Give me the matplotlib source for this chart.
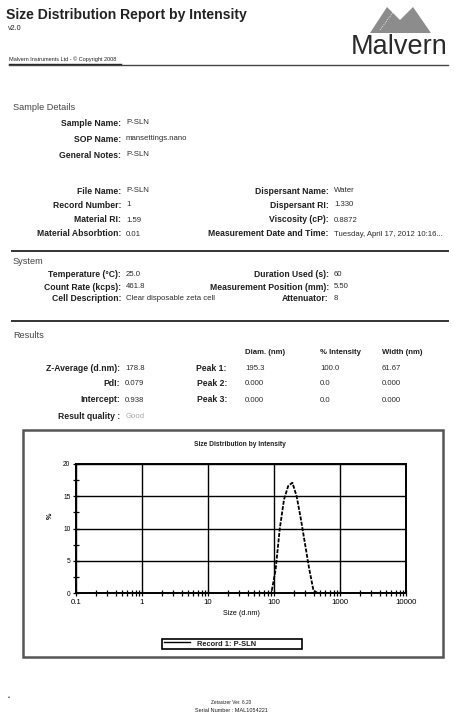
import matplotlib
matplotlib.use("Agg")
import matplotlib.pyplot as plt
from matplotlib.lines import Line2D
from matplotlib.patches import Polygon, Rectangle
from matplotlib.ticker import FixedLocator, LogLocator, NullFormatter

plt.rcParams["font.family"] = ["Liberation Sans", "DejaVu Sans"]

# -----------------------------
# Report data
# -----------------------------

sample_labels = ["Sample Name:", "SOP Name:", "General Notes:"]
sample_values = ["P-SLN", "mansettings.nano", "P-SLN"]

file_labels = ["File Name:", "Record Number:", "Material RI:", "Material Absorbtion:"]
file_values = ["P-SLN", "1", "1.59", "0.01"]
disp_labels = ["Dispersant Name:", "Dispersant RI:", "Viscosity (cP):", "Measurement Date and Time:"]
disp_values = ["Water", "1.330", "0.8872", "Tuesday, April 17, 2012 10:16..."]

system_labels = ["Temperature (\u00b0C):", "Count Rate (kcps):", "Cell Description:"]
system_values = ["25.0", "461.8", "Clear disposable zeta cell"]
system_labels2 = ["Duration Used (s):", "Measurement Position (mm):", "Attenuator:"]
system_values2 = ["60", "5.50", "8"]

result_labels = ["Z-Average (d.nm):", "PdI:", "Intercept:"]
result_values = ["178.8", "0.079", "0.938"]
peak_labels = ["Peak 1:", "Peak 2:", "Peak 3:"]
peak_cols = ["Diam. (nm)", "% Intensity", "Width (nm)"]
peak_diam = ["195.3", "0.000", "0.000"]
peak_int = ["100.0", "0.0", "0.0"]
peak_width = ["61.67", "0.000", "0.000"]

# size distribution (d.nm vs % intensity)
sizes_nm = [68.06, 78.82, 91.28, 105.7, 122.4, 141.8, 164.2, 190.1,
            220.2, 255.0, 295.3, 342.0, 396.1, 458.7, 531.2]
intensity = [0.0, 0.0, 0.0, 3.6, 10.0, 14.5, 16.6, 17.1,
             15.0, 11.5, 7.6, 3.7, 0.4, 0.0, 0.0]

# -----------------------------
# Page helpers (pixel coords, y down)
# -----------------------------

W, H = 454, 727
fig = plt.figure(figsize=(W / 100, H / 100), dpi=100)
fig.patch.set_facecolor("white")

LABEL = "#1e1e1e"
VALUE = "#2a2a2a"
LAB_SIZE = 6.2
VAL_SIZE = 5.6


def put(x, y, s, ha="left", size=VAL_SIZE, color=LABEL, weight="normal"):
    fig.text(x / W, 1 - y / H, s, ha=ha, va="center", fontsize=size,
             color=color, fontweight=weight)


def hline(x1, x2, y, lw=1.2, color="#333333"):
    fig.add_artist(Line2D([x1 / W, x2 / W], [1 - y / H, 1 - y / H],
                          transform=fig.transFigure, lw=lw, color=color))


def rows(labels, values, x_lab, ys, x_val=None, vcolor=VALUE):
    if x_val is None:
        x_val = x_lab + 5
    for lab, val, y in zip(labels, values, ys):
        put(x_lab, y, lab, ha="right", size=LAB_SIZE, weight="bold")
        put(x_val, y, val, color=vcolor)


# -----------------------------
# Header
# -----------------------------

put(6, 15, "Size Distribution Report by Intensity", size=10.1, color="#222222", weight="bold")
put(8, 28, "v2.0", size=5.2)
put(9, 59, "Malvern Instruments Ltd - \u00a9 Copyright 2008", size=4.0, color="#222222")
hline(9, 121, 63.5, lw=1.0, color="#222222")
hline(9, 448, 65, lw=1.0, color="#444444")

logo = Polygon([(370 / W, 1 - 33 / H), (387 / W, 1 - 7 / H), (400 / W, 1 - 20 / H),
                (413 / W, 1 - 7 / H), (431 / W, 1 - 33 / H)],
               closed=True, transform=fig.transFigure, fc="#8c8c8c", ec="none")
fig.add_artist(logo)
fig.add_artist(Line2D([380 / W, 394 / W], [1 - 30 / H, 1 - 11 / H],
                      transform=fig.transFigure, lw=0.6, color="white", ls=(0, (1, 1.5))))
put(399, 47, "Malvern", ha="center", size=19.5, color="#2a2a2a")

# -----------------------------
# Sample details
# -----------------------------

put(13, 107, "Sample Details", size=6.6, color="#444444")
rows(sample_labels, sample_values, 121, [123, 139, 155])
rows(file_labels, file_values, 121, [191, 205, 220, 234])
rows(disp_labels, disp_values, 329, [191, 205, 220, 234])
hline(12, 448, 251, lw=1.4)

# -----------------------------
# System
# -----------------------------

put(13, 262, "System", size=6.6, color="#444444")
rows(system_labels, system_values, 121, [274, 287, 299])
rows(system_labels2, system_values2, 329, [274, 287, 299])
hline(12, 448, 321, lw=1.4)

# -----------------------------
# Results
# -----------------------------

put(13, 336, "Results", size=6.6, color="#444444")
for x, col in zip([245, 320, 382], peak_cols):
    put(x, 352, col, size=5.6, weight="bold")
rows(result_labels, result_values, 120, [368, 384, 400])
for lab, d, i, w, y in zip(peak_labels, peak_diam, peak_int, peak_width, [368, 384, 400]):
    put(227, y, lab, ha="right", size=LAB_SIZE, weight="bold")
    put(245, y, d, color=VALUE)
    put(320, y, i, color=VALUE)
    put(382, y, w, color=VALUE)
put(120, 417, "Result quality :", ha="right", size=LAB_SIZE, weight="bold")
put(126, 417, "Good", color="#a8a8a8")

# -----------------------------
# Distribution graph
# -----------------------------

fig.add_artist(Rectangle((23 / W, 1 - 657 / H), 420 / W, 227 / H, fill=False,
                         transform=fig.transFigure, lw=1.8, ec="#555555"))
put(240, 444, "Size Distribution by Intensity", ha="center", size=4.8, weight="bold")

ax = fig.add_axes([76 / W, 1 - 593 / H, 330 / W, 129 / H])
ax.plot(sizes_nm, intensity, color="black", lw=1.3, ls=(0, (2.2, 0.8)))
ax.set_xscale("log")
ax.set_xlim(0.1, 10000)
ax.set_ylim(0, 20)
ax.xaxis.set_major_locator(FixedLocator([0.1, 1, 10, 100, 1000, 10000]))
ax.xaxis.set_minor_locator(LogLocator(base=10, subs=range(2, 10), numticks=20))
ax.xaxis.set_minor_formatter(NullFormatter())
ax.set_xticklabels(["0.1", "1", "10", "100", "1000", "10000"])
ax.set_yticks([0, 5, 10, 15, 20])
ax.set_yticks([2.5, 7.5, 12.5, 17.5], minor=True)
ax.grid(True, which="major", color="black", lw=1.0)
ax.tick_params(which="both", direction="inout", color="black", pad=2)
ax.tick_params(axis="x", labelsize=5.6)
ax.tick_params(axis="y", labelsize=4.8)
ax.tick_params(which="major", length=4, width=0.9)
ax.tick_params(which="minor", length=4, width=0.9)
for sp in ax.spines.values():
    sp.set_linewidth(1.4)
ax.set_xlabel("Size (d.nm)", fontsize=5.2, labelpad=3)
ax.set_ylabel("%", fontsize=5.2, fontweight="bold")
ax.yaxis.set_label_coords(-0.067, 0.6)

fig.add_artist(Rectangle((162 / W, 1 - 649 / H), 140 / W, 10 / H, fill=False,
                         transform=fig.transFigure, lw=1.2, ec="black"))
fig.add_artist(Line2D([164 / W, 190 / W], [1 - 641.5 / H, 1 - 641.5 / H],
                      transform=fig.transFigure, lw=1.0, color="black"))
put(227, 644.5, "Record 1: P-SLN", ha="center", size=5.4, weight="bold")

# -----------------------------
# Footer
# -----------------------------

put(8, 697, "\u2022", size=4)
put(231, 703, "Zetasizer Ver. 6.20", ha="center", size=3.4)
put(231, 711, "Serial Number : MAL1054221", ha="center", size=4.0)

fig.savefig("out.png", dpi=100)
